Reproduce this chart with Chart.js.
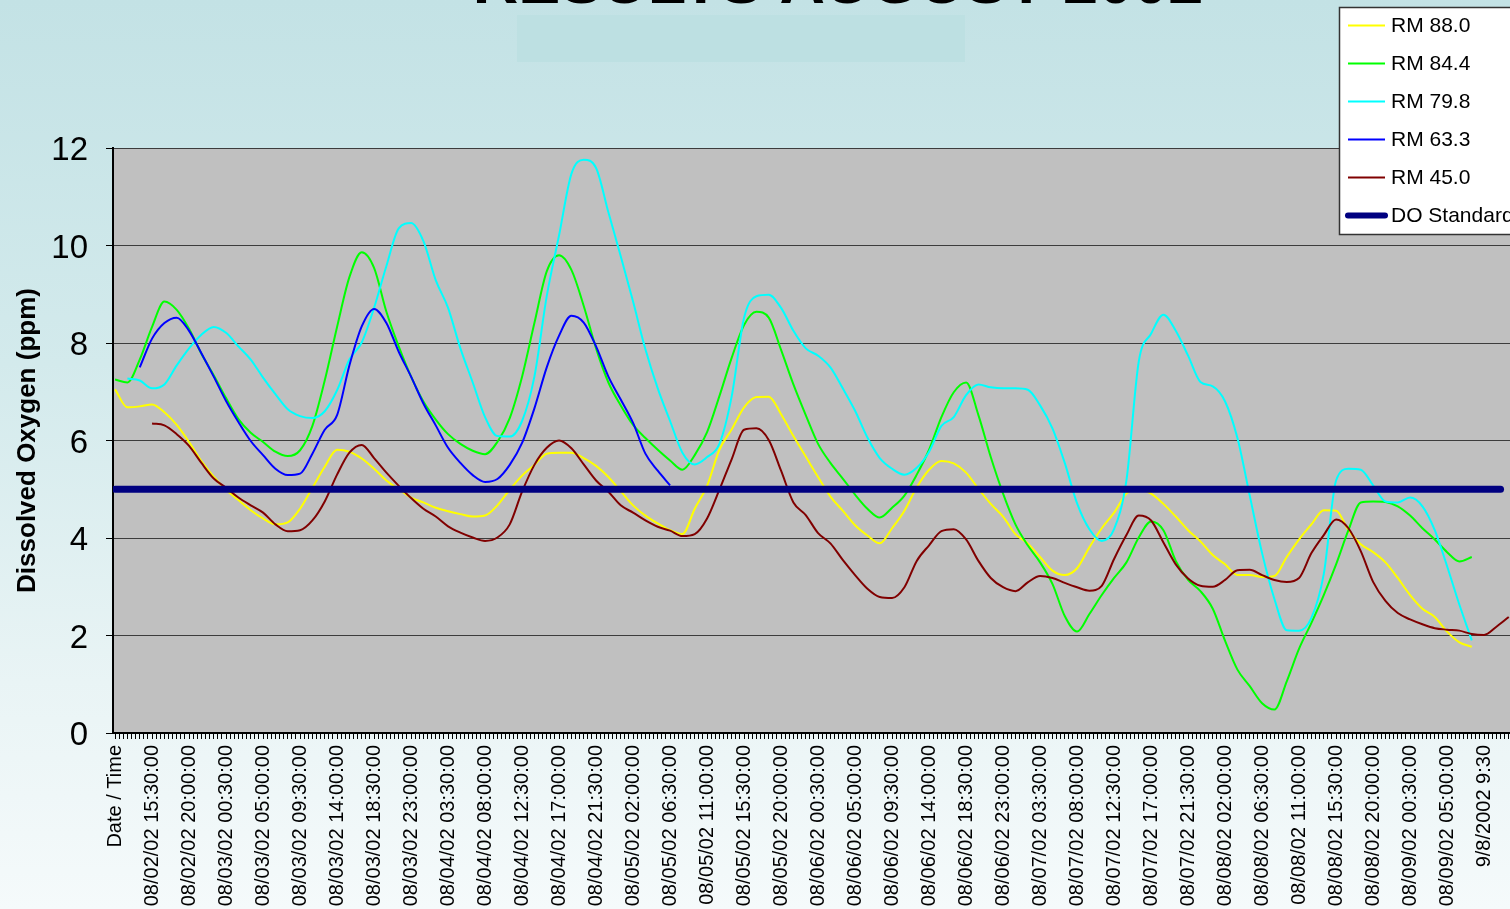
<!DOCTYPE html>
<html>
<head>
<meta charset="utf-8">
<title>Results August 2002</title>
<script src="https://cdn.jsdelivr.net/npm/chart.js@4.4.1/dist/chart.umd.min.js"></script>
<style>
  html, body {
    margin: 0; padding: 0; overflow: hidden;
    width: 1510px; height: 909px;
    background: linear-gradient(to bottom, #c3e2e5 0%, #d3eaec 40%, #e9f4f5 75%, #f5fafb 100%);
  }
  canvas { display: block; }
</style>
</head>
<body>
<canvas id="do-chart" width="1510" height="909"></canvas>
<script>
const FONT = '"Liberation Sans", Arial, Helvetica, sans-serif';

// Logger slots are 30 minutes apart; readings below are listed every 3 slots (1.5 h).
const STEP = 3;
const LABEL_EVERY = 9;     // one axis label every 4.5 h
const LAST_SLOT = 339;

const timeLabels = [
  'Date / Time',
  '08/02/02 15:30:00', '08/02/02 20:00:00', '08/03/02 00:30:00', '08/03/02 05:00:00',
  '08/03/02 09:30:00', '08/03/02 14:00:00', '08/03/02 18:30:00', '08/03/02 23:00:00',
  '08/04/02 03:30:00', '08/04/02 08:00:00', '08/04/02 12:30:00', '08/04/02 17:00:00',
  '08/04/02 21:30:00', '08/05/02 02:00:00', '08/05/02 06:30:00', '08/05/02 11:00:00',
  '08/05/02 15:30:00', '08/05/02 20:00:00', '08/06/02 00:30:00', '08/06/02 05:00:00',
  '08/06/02 09:30:00', '08/06/02 14:00:00', '08/06/02 18:30:00', '08/06/02 23:00:00',
  '08/07/02 03:30:00', '08/07/02 08:00:00', '08/07/02 12:30:00', '08/07/02 17:00:00',
  '08/07/02 21:30:00', '08/08/02 02:00:00', '08/08/02 06:30:00', '08/08/02 11:00:00',
  '08/08/02 15:30:00', '08/08/02 20:00:00', '08/09/02 00:30:00', '08/09/02 05:00:00',
  '9/8/2002 9:30'
];

const seriesNames  = ['RM 88.0', 'RM 84.4', 'RM 79.8', 'RM 63.3', 'RM 45.0', 'DO Standard'];
const seriesColors = ['#ffff00', '#00ff00', '#00ffff', '#0000ff', '#800000', '#000080'];

// first reading of each station, counted in steps of STEP slots
const firstReading = [0, 0, 1, 2, 3];

// Dissolved oxygen, ppm
const rm880 = [
  7.05, 6.68, 6.70, 6.74, 6.58, 6.32, 5.97, 5.58, 5.26, 4.99,
  4.78, 4.57, 4.40, 4.28, 4.32, 4.60, 5.03, 5.46, 5.81, 5.77,
  5.63, 5.42, 5.18, 5.00, 4.83, 4.73, 4.62, 4.55, 4.49, 4.44,
  4.46, 4.67, 4.99, 5.28, 5.50, 5.73, 5.75, 5.75, 5.64, 5.48,
  5.25, 4.96, 4.67, 4.46, 4.30, 4.16, 4.08, 4.60, 5.07, 5.81,
  6.23, 6.68, 6.89, 6.90, 6.54, 6.09, 5.67, 5.25, 4.85, 4.56,
  4.26, 4.05, 3.89, 4.20, 4.56, 5.04, 5.40, 5.58, 5.53, 5.34,
  5.01, 4.70, 4.44, 4.08, 3.89, 3.61, 3.33, 3.24, 3.38, 3.81,
  4.20, 4.52, 4.91, 5.01, 4.91, 4.70, 4.44, 4.16, 3.93, 3.65,
  3.46, 3.24, 3.24, 3.20, 3.22, 3.61, 3.97, 4.28, 4.57, 4.56,
  4.16, 3.87, 3.71, 3.50, 3.18, 2.83, 2.55, 2.38, 2.08, 1.86,
  1.77
];
const rm844 = [
  7.25, 7.19, 7.66, 8.33, 8.85, 8.68, 8.29, 7.78, 7.34, 6.87,
  6.44, 6.16, 5.97, 5.77, 5.68, 5.80, 6.30, 7.23, 8.33, 9.35,
  9.86, 9.54, 8.64, 7.93, 7.31, 6.80, 6.43, 6.13, 5.93, 5.79,
  5.72, 5.97, 6.46, 7.31, 8.41, 9.47, 9.80, 9.50, 8.76, 7.89,
  7.19, 6.72, 6.32, 6.05, 5.81, 5.59, 5.40, 5.70, 6.17, 6.91,
  7.70, 8.37, 8.64, 8.52, 7.86, 7.15, 6.52, 5.93, 5.54, 5.22,
  4.89, 4.60, 4.42, 4.62, 4.87, 5.30, 5.81, 6.48, 6.99, 7.19,
  6.52, 5.66, 4.91, 4.28, 3.85, 3.50, 3.06, 2.40, 2.08, 2.44,
  2.83, 3.18, 3.50, 4.01, 4.34, 4.16, 3.53, 3.14, 2.91, 2.55,
  1.89, 1.30, 0.96, 0.61, 0.48, 1.06, 1.73, 2.26, 2.83, 3.46,
  4.16, 4.73, 4.75, 4.74, 4.65, 4.46, 4.20, 3.97, 3.71, 3.52,
  3.61
];
const rm798 = [
  7.27, 7.23, 7.07, 7.15, 7.54, 7.89, 8.17, 8.33, 8.21, 7.93,
  7.66, 7.29, 6.95, 6.64, 6.50, 6.46, 6.60, 7.03, 7.66, 8.01,
  8.72, 9.58, 10.35, 10.46, 10.09, 9.29, 8.72, 7.89, 7.19, 6.48,
  6.09, 6.08, 6.40, 7.31, 8.96, 10.21, 11.47, 11.76, 11.59, 10.68,
  9.78, 8.85, 7.87, 7.07, 6.40, 5.75, 5.51, 5.66, 5.93, 6.91,
  8.52, 8.96, 8.99, 8.72, 8.25, 7.89, 7.74, 7.50, 7.07, 6.61,
  6.06, 5.64, 5.42, 5.30, 5.44, 5.77, 6.30, 6.48, 6.93, 7.15,
  7.09, 7.07, 7.07, 7.04, 6.72, 6.25, 5.54, 4.71, 4.18, 3.94,
  4.18, 5.18, 7.62, 8.19, 8.58, 8.25, 7.74, 7.20, 7.11, 6.80,
  6.05, 4.87, 3.69, 2.75, 2.11, 2.10, 2.36, 3.26, 5.18, 5.42,
  5.40, 5.08, 4.75, 4.73, 4.83, 4.65, 4.16, 3.42, 2.63, 1.90
];
const rm633 = [
  7.50, 8.09, 8.41, 8.52, 8.25, 7.79, 7.31, 6.81, 6.38, 5.99,
  5.70, 5.42, 5.29, 5.32, 5.73, 6.22, 6.52, 7.54, 8.34, 8.70,
  8.41, 7.82, 7.31, 6.76, 6.31, 5.85, 5.54, 5.29, 5.15, 5.21,
  5.50, 5.95, 6.66, 7.50, 8.15, 8.56, 8.42, 7.93, 7.31, 6.84,
  6.36, 5.73, 5.38, 5.08
];
const rm450 = [
  6.35, 6.31, 6.13, 5.89, 5.54, 5.22, 5.03, 4.83, 4.67, 4.52,
  4.28, 4.14, 4.16, 4.36, 4.75, 5.30, 5.75, 5.91, 5.64, 5.34,
  5.07, 4.82, 4.60, 4.44, 4.24, 4.11, 4.01, 3.94, 4.01, 4.28,
  4.95, 5.50, 5.85, 6.00, 5.84, 5.51, 5.18, 4.95, 4.67, 4.52,
  4.36, 4.23, 4.15, 4.04, 4.08, 4.40, 4.99, 5.62, 6.22, 6.25,
  6.01, 5.38, 4.73, 4.47, 4.10, 3.89, 3.55, 3.24, 2.96, 2.79,
  2.77, 2.99, 3.53, 3.85, 4.14, 4.18, 3.97, 3.53, 3.18, 2.99,
  2.91, 3.09, 3.22, 3.18, 3.08, 2.99, 2.92, 3.02, 3.57, 4.06,
  4.46, 4.36, 3.91, 3.46, 3.17, 3.02, 3.00, 3.14, 3.34, 3.35,
  3.24, 3.14, 3.10, 3.18, 3.69, 4.06, 4.38, 4.20, 3.73, 3.10,
  2.71, 2.46, 2.33, 2.23, 2.15, 2.12, 2.10, 2.03, 2.01, 2.18,
  2.38
];

const doStandard = 5.0;
const doSpan = [0, 337];   // first and last slot of the standard line

const readings = [rm880, rm844, rm798, rm633, rm450];

const datasets = readings.map((vals, s) => ({
  label: seriesNames[s],
  data: vals.map((v, i) => ({ x: (firstReading[s] + i) * STEP, y: v })),
  borderColor: seriesColors[s],
  borderWidth: 2,
  pointRadius: 0,
  fill: false,
  cubicInterpolationMode: 'monotone',
  order: 6 - s
}));
datasets.push({
  label: seriesNames[5],
  data: doSpan.map(x => ({ x, y: doStandard })),
  borderColor: seriesColors[5],
  borderWidth: 7,
  borderCapStyle: 'round',
  pointRadius: 0,
  fill: false,
  order: 0
});

// grey plot area, faded heading box and the heading itself
const backdrop = {
  id: 'backdrop',
  beforeDraw(chart) {
    const { ctx, chartArea: a } = chart;
    ctx.save();
    ctx.fillStyle = '#bde0e2';
    ctx.fillRect(517, 15, 448, 47);
    ctx.fillStyle = '#c0c0c0';
    ctx.fillRect(a.left, a.top, a.right - a.left, a.bottom - a.top);
    ctx.fillStyle = '#000';
    ctx.font = 'bold 63px ' + FONT;
    ctx.textAlign = 'center';
    ctx.textBaseline = 'alphabetic';
    ctx.fillText('RESULTS AUGUST 2002', 838, 3);
    ctx.restore();
  }
};

// boxed legend in the top right corner
const legendBox = {
  id: 'legendBox',
  afterDraw(chart) {
    const { ctx } = chart;
    const x0 = 1339.5, y0 = 7.5, rowH = 38;
    ctx.save();
    ctx.fillStyle = '#ffffff';
    ctx.fillRect(x0, y0, 200, 227);
    ctx.strokeStyle = '#333';
    ctx.lineWidth = 1.5;
    ctx.strokeRect(x0, y0, 200, 227);
    ctx.font = '21px ' + FONT;
    ctx.textBaseline = 'middle';
    ctx.textAlign = 'left';
    chart.data.datasets.forEach((ds, i) => {
      const y = 25.5 + i * rowH;
      ctx.beginPath();
      ctx.strokeStyle = ds.borderColor;
      ctx.lineWidth = i === 5 ? 6 : 2;
      ctx.lineCap = i === 5 ? 'round' : 'butt';
      ctx.moveTo(1348, y);
      ctx.lineTo(1385, y);
      ctx.stroke();
      ctx.fillStyle = '#000';
      ctx.fillText(ds.label, 1391, y + 1);
    });
    ctx.restore();
  }
};

new Chart(document.getElementById('do-chart'), {
  type: 'line',
  data: { datasets },
  plugins: [backdrop, legendBox],
  options: {
    responsive: false,
    animation: false,
    devicePixelRatio: 1,
    layout: { padding: { top: 148, left: 0, right: 0, bottom: 0 } },
    plugins: { legend: { display: false }, tooltip: { enabled: false } },
    scales: {
      x: {
        type: 'linear',
        min: -0.5,
        max: 339.3,
        afterBuildTicks(ax) {
          const t = [];
          for (let i = 0; i <= LAST_SLOT; i++) t.push({ value: i });
          ax.ticks = t;
        },
        afterFit(ax) { ax.height = 176; ax.paddingLeft = 0; ax.paddingRight = 0; },
        grid: { drawOnChartArea: false, drawTicks: true, tickLength: 6, color: '#000', lineWidth: 1 },
        border: { display: true, color: '#000', width: 2 },
        ticks: {
          autoSkip: false,
          minRotation: 90,
          maxRotation: 90,
          padding: 6,
          color: '#000',
          font: { family: FONT, size: 20 },
          callback: v => (v % LABEL_EVERY === 0 ? (timeLabels[v / LABEL_EVERY] ?? '') : '')
        }
      },
      y: {
        min: 0,
        max: 12,
        afterFit(ax) { ax.width = 113; ax.paddingTop = 0; ax.paddingBottom = 0; },
        ticks: { stepSize: 2, padding: 18, labelOffset: 3, color: '#000', font: { family: FONT, size: 33 } },
        grid: { color: '#3c3c3c', lineWidth: 1, tickLength: 7, tickColor: '#000' },
        border: { display: true, color: '#000', width: 2 },
        title: {
          display: true,
          text: 'Dissolved Oxygen (ppm)',
          color: '#000',
          font: { family: FONT, size: 26, weight: 'bold' },
          padding: { top: 12, bottom: 0 }
        }
      }
    }
  }
});
</script>
</body>
</html>
